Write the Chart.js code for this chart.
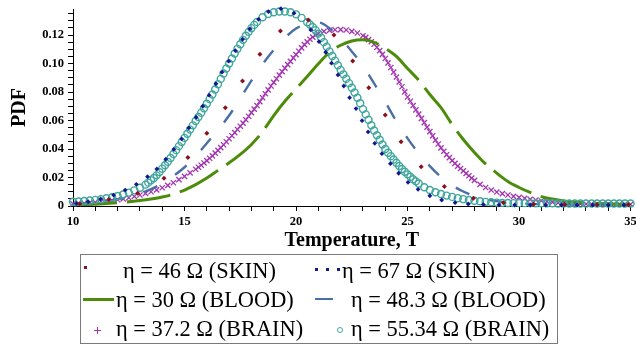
<!DOCTYPE html>
<html><head><meta charset="utf-8">
<script src="https://cdn.jsdelivr.net/npm/chart.js@4.4.0/dist/chart.umd.min.js"></script>
<style>
html,body{margin:0;padding:0;background:#fff;}
#wrap{position:relative;width:636px;height:347px;overflow:hidden;background:#fff;}
#c{position:absolute;left:0;top:0;}
#legend{position:absolute;left:80px;top:254px;width:478px;height:90px;border:1px solid #7a7a7a;box-sizing:border-box;font-family:"Liberation Serif","Times New Roman",serif;font-size:22.4px;color:#000;}
</style></head>
<body><div id="wrap"><canvas id="c" width="636" height="347"></canvas><div id="legend"></div></div>
<script>
// ---- data ----
const seriesLabels = ['η = 46 Ω (SKIN)', 'η = 67 Ω (SKIN)', 'η = 30 Ω (BLOOD)', 'η = 48.3 Ω (BLOOD)', 'η = 37.2 Ω (BRAIN)', 'η = 55.34 Ω (BRAIN)'];

// η = 46 Ω (SKIN) – sparse dots
const skin46T = [10.3, 11.6, 12.9, 14.08, 15.15, 16.0, 16.83, 17.6, 18.38, 19.3, 20.55, 21.7, 22.54, 23.26, 24.0, 24.71, 25.61, 26.65, 27.95, 29.3, 30.65, 32.05, 33.5, 34.9];
const skin46P = [0.0016, 0.0045, 0.0089, 0.0194, 0.0340, 0.0510, 0.0690, 0.0877, 0.1065, 0.1228, 0.1306, 0.1200, 0.1018, 0.0830, 0.0639, 0.0451, 0.0276, 0.0136, 0.0054, 0.0022, 0.0012, 0.0010, 0.0009, 0.0008];

// η = 67 Ω (SKIN) – dotted
const skin67T = [10.16, 10.68, 11.24, 11.82, 12.34, 12.84, 13.34, 13.76, 14.16, 14.52, 14.87, 15.19, 15.52, 15.82, 16.1, 16.41, 16.68, 16.98, 17.28, 17.6, 17.93, 18.32, 18.76, 19.32, 19.91, 20.66, 21.03, 21.33, 21.59, 21.88, 22.14, 22.4, 22.69, 22.96, 23.23, 23.53, 23.85, 24.23, 24.6, 25.02, 25.47, 26.0, 26.53, 27.13, 27.72, 28.4, 29.1, 29.8, 30.5, 31.2, 31.9, 32.6, 33.3, 34.0, 34.7];
const skin67P = [0.0018, 0.0030, 0.0049, 0.0077, 0.0112, 0.0152, 0.0206, 0.0260, 0.0328, 0.0398, 0.0471, 0.0548, 0.0623, 0.0700, 0.0778, 0.0858, 0.0939, 0.1016, 0.1090, 0.1170, 0.1243, 0.1310, 0.1364, 0.1385, 0.1353, 0.1236, 0.1153, 0.1079, 0.1002, 0.0920, 0.0842, 0.0760, 0.0684, 0.0599, 0.0520, 0.0440, 0.0367, 0.0297, 0.0230, 0.0166, 0.0117, 0.0072, 0.0042, 0.0023, 0.0014, 0.0010, 0.0008, 0.0007, 0.0007, 0.0007, 0.0007, 0.0007, 0.0007, 0.0007, 0.0007];

// half-degree grid for the dashed lines
const gridHalf = [10, 10.5, 11, 11.5, 12, 12.5, 13, 13.5, 14, 14.5, 15, 15.5, 16, 16.5, 17, 17.5, 18, 18.5, 19, 19.5, 20, 20.5, 21, 21.5, 22, 22.5, 23, 23.5, 24, 24.5, 25, 25.5, 26, 26.5, 27, 27.5, 28, 28.5, 29, 29.5, 30, 30.5, 31, 31.5, 32, 32.5, 33, 33.5, 34, 34.5, 35];
const blood30P = [0.0007, 0.0009, 0.0013, 0.0017, 0.0023, 0.0029, 0.0038, 0.0049, 0.0063, 0.0083, 0.0112, 0.0150, 0.0196, 0.0250, 0.0303, 0.0362, 0.0432, 0.0522, 0.0635, 0.0735, 0.0822, 0.0908, 0.0998, 0.1078, 0.1128, 0.1158, 0.1166, 0.1148, 0.1107, 0.1050, 0.0965, 0.0883, 0.0782, 0.0690, 0.0572, 0.0467, 0.0376, 0.0295, 0.0231, 0.0172, 0.0130, 0.0095, 0.0066, 0.0049, 0.0036, 0.0027, 0.0021, 0.0017, 0.0015, 0.0013, 0.0012];
const blood48P = [0.0012, 0.0017, 0.0024, 0.0034, 0.0048, 0.0065, 0.0088, 0.0118, 0.0158, 0.0210, 0.0272, 0.0350, 0.0440, 0.0535, 0.0635, 0.0755, 0.0880, 0.0995, 0.1095, 0.1180, 0.1245, 0.1280, 0.1288, 0.1248, 0.1175, 0.1085, 0.0985, 0.0860, 0.0730, 0.0595, 0.0475, 0.0370, 0.0280, 0.0203, 0.0145, 0.0102, 0.0070, 0.0048, 0.0034, 0.0025, 0.0019, 0.0015, 0.0013, 0.0012, 0.0011, 0.0011, 0.0010, 0.0010, 0.0010, 0.0010, 0.0010];

// η = 37.2 Ω (BRAIN) – dense crosses
const brain37T = [10, 10.25, 10.5, 10.75, 11, 11.25, 11.5, 11.75, 12, 12.25,
  12.5, 12.75, 13, 13.25, 13.5, 13.75, 14, 14.25, 14.5, 14.75,
  15, 15.25, 15.5, 15.625, 15.75, 15.875, 16, 16.125, 16.25, 16.375,
  16.5, 16.625, 16.75, 16.875, 17, 17.125, 17.25, 17.375, 17.5, 17.625,
  17.75, 17.875, 18, 18.125, 18.25, 18.375, 18.5, 18.625, 18.75, 18.875,
  19, 19.125, 19.25, 19.375, 19.5, 19.625, 19.75, 19.875, 20, 20.125,
  20.25, 20.375, 20.5, 20.625, 20.75, 20.875, 21, 21.25, 21.5, 21.75,
  22, 22.25, 22.5, 22.75, 23, 23.125, 23.25, 23.375, 23.5, 23.625,
  23.75, 23.875, 24, 24.125, 24.25, 24.375, 24.5, 24.625, 24.75, 24.875,
  25, 25.125, 25.25, 25.375, 25.5, 25.625, 25.75, 25.875, 26, 26.125,
  26.25, 26.375, 26.5, 26.625, 26.75, 26.875, 27, 27.125, 27.25, 27.375,
  27.5, 27.625, 27.75, 27.875, 28, 28.25, 28.5, 28.75, 29, 29.25,
  29.5, 29.75, 30, 30.25, 30.5, 30.75, 31, 31.25, 31.5, 31.75,
  32, 32.25, 32.5, 32.75, 33, 33.25, 33.5, 33.75, 34, 34.25,
  34.5, 34.75, 35];
const brain37P = [0.0015, 0.0017, 0.0019, 0.0022, 0.0026, 0.0030, 0.0034, 0.0039, 0.0044, 0.0050,
  0.0058, 0.0067, 0.0077, 0.0088, 0.0100, 0.0113, 0.0128, 0.0145, 0.0163, 0.0185,
  0.0208, 0.0232, 0.0258, 0.0272, 0.0286, 0.0302, 0.0318, 0.0335, 0.0352, 0.0371,
  0.0390, 0.0410, 0.0430, 0.0451, 0.0472, 0.0493, 0.0515, 0.0537, 0.0560, 0.0582,
  0.0605, 0.0630, 0.0655, 0.0680, 0.0705, 0.0732, 0.0760, 0.0788, 0.0815, 0.0842,
  0.0868, 0.0893, 0.0918, 0.0943, 0.0968, 0.0992, 0.1015, 0.1039, 0.1062, 0.1086,
  0.1110, 0.1132, 0.1152, 0.1170, 0.1185, 0.1199, 0.1210, 0.1225, 0.1233, 0.1237,
  0.1238, 0.1235, 0.1226, 0.1214, 0.1195, 0.1183, 0.1168, 0.1153, 0.1135, 0.1114,
  0.1090, 0.1064, 0.1035, 0.1004, 0.0972, 0.0939, 0.0905, 0.0871, 0.0837, 0.0801,
  0.0765, 0.0735, 0.0705, 0.0675, 0.0645, 0.0615, 0.0585, 0.0554, 0.0522, 0.0492,
  0.0462, 0.0435, 0.0408, 0.0384, 0.0360, 0.0339, 0.0318, 0.0299, 0.0280, 0.0263,
  0.0246, 0.0229, 0.0212, 0.0196, 0.0180, 0.0152, 0.0130, 0.0112, 0.0098, 0.0087,
  0.0077, 0.0068, 0.0060, 0.0053, 0.0047, 0.0042, 0.0037, 0.0032, 0.0027, 0.0023,
  0.0020, 0.0018, 0.0016, 0.0015, 0.0014, 0.0014, 0.0013, 0.0013, 0.0013, 0.0012,
  0.0012, 0.0012, 0.0012];

// η = 55.34 Ω (BRAIN) – dense circles
const brain55T = [10, 10.25, 10.5, 10.75, 11, 11.25, 11.5, 11.75, 12, 12.25,
  12.5, 12.75, 13, 13.25, 13.375, 13.5, 13.625, 13.75, 13.875, 14,
  14.125, 14.25, 14.375, 14.5, 14.625, 14.75, 14.875, 15, 15.125, 15.25,
  15.375, 15.5, 15.625, 15.75, 15.875, 16, 16.125, 16.25, 16.375, 16.5,
  16.625, 16.75, 16.875, 17, 17.125, 17.25, 17.375, 17.5, 17.625, 17.75,
  17.875, 18, 18.125, 18.25, 18.5, 18.75, 19, 19.25, 19.5, 19.75,
  20, 20.25, 20.5, 20.625, 20.75, 20.875, 21, 21.125, 21.25, 21.375,
  21.5, 21.625, 21.75, 21.875, 22, 22.125, 22.25, 22.375, 22.5, 22.625,
  22.75, 22.875, 23, 23.125, 23.25, 23.375, 23.5, 23.625, 23.75, 23.875,
  24, 24.125, 24.25, 24.375, 24.5, 24.625, 24.75, 24.875, 25, 25.125,
  25.25, 25.375, 25.5, 25.75, 26, 26.25, 26.5, 26.75, 27, 27.25,
  27.5, 27.75, 28, 28.25, 28.5, 28.75, 29, 29.25, 29.5, 29.75,
  30, 30.25, 30.5, 30.75, 31, 31.25, 31.5, 31.75, 32, 32.25,
  32.5, 32.75, 33, 33.25, 33.5, 33.75, 34, 34.25, 34.5, 34.75,
  35];
const brain55P = [0.0030, 0.0032, 0.0035, 0.0039, 0.0043, 0.0048, 0.0054, 0.0061, 0.0070, 0.0081,
  0.0094, 0.0110, 0.0128, 0.0150, 0.0164, 0.0180, 0.0197, 0.0215, 0.0238, 0.0262,
  0.0286, 0.0310, 0.0337, 0.0365, 0.0392, 0.0420, 0.0449, 0.0478, 0.0507, 0.0536,
  0.0566, 0.0596, 0.0625, 0.0655, 0.0686, 0.0718, 0.0750, 0.0782, 0.0818, 0.0855,
  0.0892, 0.0930, 0.0965, 0.1000, 0.1035, 0.1070, 0.1103, 0.1135, 0.1166, 0.1195,
  0.1222, 0.1248, 0.1271, 0.1292, 0.1325, 0.1348, 0.1360, 0.1365, 0.1365, 0.1360,
  0.1345, 0.1320, 0.1290, 0.1274, 0.1255, 0.1234, 0.1210, 0.1181, 0.1150, 0.1118,
  0.1085, 0.1053, 0.1020, 0.0988, 0.0955, 0.0924, 0.0893, 0.0862, 0.0830, 0.0796,
  0.0760, 0.0721, 0.0680, 0.0643, 0.0605, 0.0567, 0.0530, 0.0497, 0.0465, 0.0432,
  0.0400, 0.0374, 0.0350, 0.0326, 0.0303, 0.0281, 0.0260, 0.0240, 0.0222, 0.0205,
  0.0188, 0.0173, 0.0158, 0.0132, 0.0112, 0.0097, 0.0084, 0.0073, 0.0064, 0.0055,
  0.0048, 0.0042, 0.0037, 0.0033, 0.0029, 0.0026, 0.0024, 0.0022, 0.0021, 0.0020,
  0.0020, 0.0020, 0.0020, 0.0019, 0.0019, 0.0019, 0.0019, 0.0018, 0.0018, 0.0018,
  0.0018, 0.0018, 0.0018, 0.0018, 0.0018, 0.0018, 0.0018, 0.0018, 0.0018, 0.0018,
  0.0018];

// axis ticks
const xMajorTicks = [10, 15, 20, 25, 30, 35];
const yMajorTicks = [0, 0.02, 0.04, 0.06, 0.08, 0.10, 0.12];
const xMinorStep = 1;
const yMinorStep = 0.005;

// ---- build chart ----
const pts = (xs, ys) => xs.map((x, i) => ({x: x, y: ys[i]}));
const COL = {red:'#8a1020', navy:'#161690', green:'#4c8c0a', steel:'#4a6ea8', magenta:'#a234b0', teal:'#3ea69c'};
const serif = '"Liberation Serif","Times New Roman",serif';

const xTickVals = []; for (let v = 10; v <= 35 + 1e-9; v += xMinorStep) xTickVals.push(Math.round(v * 1000) / 1000);
const yTickVals = []; for (let k = 0; k * yMinorStep <= 0.1382; k++) yTickVals.push(Math.round(k * yMinorStep * 10000) / 10000);
const isMajor = (v, list) => list.some(m => Math.abs(m - v) < 1e-9);

const datasets = [
  {label: seriesLabels[0], data: pts(skin46T, skin46P), showLine:false, pointStyle:'rectRot', pointRadius:2.5, pointBackgroundColor:COL.red, pointBorderWidth:0, order:0, clip:false},
  {label: seriesLabels[1], data: pts(skin67T, skin67P), showLine:false, pointStyle:'rectRot', pointRadius:2.4, pointBackgroundColor:COL.navy, pointBorderWidth:0, order:1, clip:false},
  {label: seriesLabels[2], data: pts(gridHalf, blood30P), showLine:true, borderColor:COL.green, borderWidth:3, borderDash:[44,10], pointRadius:0, cubicInterpolationMode:'monotone', order:4},
  {label: seriesLabels[3], data: pts(gridHalf, blood48P), showLine:true, borderColor:COL.steel, borderWidth:2.4, borderDash:[15,21], pointRadius:0, cubicInterpolationMode:'monotone', order:3},
  {label: seriesLabels[4], data: pts(brain37T, brain37P), showLine:false, pointStyle:'crossRot', pointRadius:3.7, pointBorderColor:COL.magenta, pointBorderWidth:1.3, order:5, clip:false},
  {label: seriesLabels[5], data: pts(brain55T, brain55P), showLine:false, pointStyle:'circle', pointRadius:3.5, pointBorderColor:COL.teal, pointBackgroundColor:'rgba(0,0,0,0)', pointBorderWidth:1.4, order:2, clip:false}
];

const tickFont = {family: serif, size: 12.5, weight: 'bold'};
const titleFont = {family: serif, size: 20, weight: 'bold', lineHeight: 1};

new Chart(document.getElementById('c'), {
  type: 'scatter',
  data: {datasets: datasets},
  options: {
    responsive: false, animation: false, devicePixelRatio: 1,
    layout: {padding: {left: 0, right: 3, top: 9, bottom: 95}},
    plugins: {legend: {display: false}, tooltip: {enabled: false}},
    events: [],
    scales: {
      x: {
        type: 'linear', min: 10, max: 35,
        afterBuildTicks: s => { s.ticks = xTickVals.map(v => ({value: v})); },
        afterFit: s => { s.height = 46; s.paddingLeft = 0; s.paddingRight = 0; },
        ticks: {autoSkip: false, maxRotation: 0, padding: 3, color: '#000', font: tickFont,
          callback: v => isMajor(v, xMajorTicks) ? String(v) : ''},
        grid: {drawOnChartArea: false, drawTicks: true, tickLength: 5, color: '#000', tickWidth: 1},
        border: {display: true, color: '#000', width: 1},
        title: {display: true, text: 'Temperature, T', color: '#000', font: titleFont, padding: {top: 0, bottom: 1}}
      },
      y: {
        type: 'linear', min: 0, max: 0.13825,
        afterBuildTicks: s => { s.ticks = yTickVals.map(v => ({value: v})); },
        afterFit: s => { s.width = 73; s.paddingTop = 0; s.paddingBottom = 0; },
        ticks: {autoSkip: false, padding: 4, color: '#000', font: tickFont,
          callback: v => isMajor(v, yMajorTicks) ? (v === 0 ? '0' : v.toFixed(2)) : ''},
        grid: {drawOnChartArea: false, drawTicks: true, tickLength: 5, color: '#000', tickWidth: 1},
        border: {display: true, color: '#000', width: 1},
        title: {display: true, text: 'PDF', color: '#000', font: titleFont, padding: {top: 10, bottom: 0}}
      }
    }
  }
});

// ---- legend (HTML, text taken from the dataset labels) ----
const legendLayout = [
  {tx: 42, ty: 5, sym: 'square', sx: 4, sy: 12},
  {tx: 261, ty: 5, sym: 'dots', sx: 235, sy: 14},
  {tx: 35, ty: 34, sym: 'line', sx: 2, sy: 44},
  {tx: 270, ty: 34, sym: 'dash', sx: 234, sy: 44},
  {tx: 35, ty: 63, sym: 'plus', sx: 16, sy: 75},
  {tx: 270, ty: 63, sym: 'circle', sx: 259, sy: 75}
];
const symColors = [COL.red, COL.navy, COL.green, COL.steel, COL.magenta, COL.teal];
const lg = document.getElementById('legend');
function addEl(css, text) { const d = document.createElement('div'); d.style.cssText = css; if (text) d.textContent = text; lg.appendChild(d); return d; }
datasets.forEach((ds, i) => {
  const L = legendLayout[i], c = symColors[i];
  if (L.sym === 'square') addEl(`position:absolute;left:${L.sx-1.5}px;top:${L.sy-1.5}px;width:3.5px;height:3.5px;background:${c};`);
  if (L.sym === 'dots') [0, 11, 22].forEach(o => addEl(`position:absolute;left:${L.sx+o-1.5}px;top:${L.sy-1.5}px;width:3px;height:3px;background:${c};`));
  if (L.sym === 'line') addEl(`position:absolute;left:${L.sx}px;top:${L.sy-1.5}px;width:31px;height:3px;background:${c};`);
  if (L.sym === 'dash') addEl(`position:absolute;left:${L.sx}px;top:${L.sy-1}px;width:18px;height:2px;background:${c};`);
  if (L.sym === 'plus') { addEl(`position:absolute;left:${L.sx-3}px;top:${L.sy-0.5}px;width:7px;height:1px;background:${c};`); addEl(`position:absolute;left:${L.sx-0.5}px;top:${L.sy-3}px;width:1px;height:7px;background:${c};`); }
  if (L.sym === 'circle') addEl(`position:absolute;left:${L.sx-3}px;top:${L.sy-3}px;width:6px;height:6px;border:1px solid ${c};border-radius:50%;box-sizing:border-box;`);
  addEl(`position:absolute;left:${L.tx}px;top:${L.ty}px;white-space:nowrap;line-height:22.4px;`, ds.label);
});
</script>
</body></html>
